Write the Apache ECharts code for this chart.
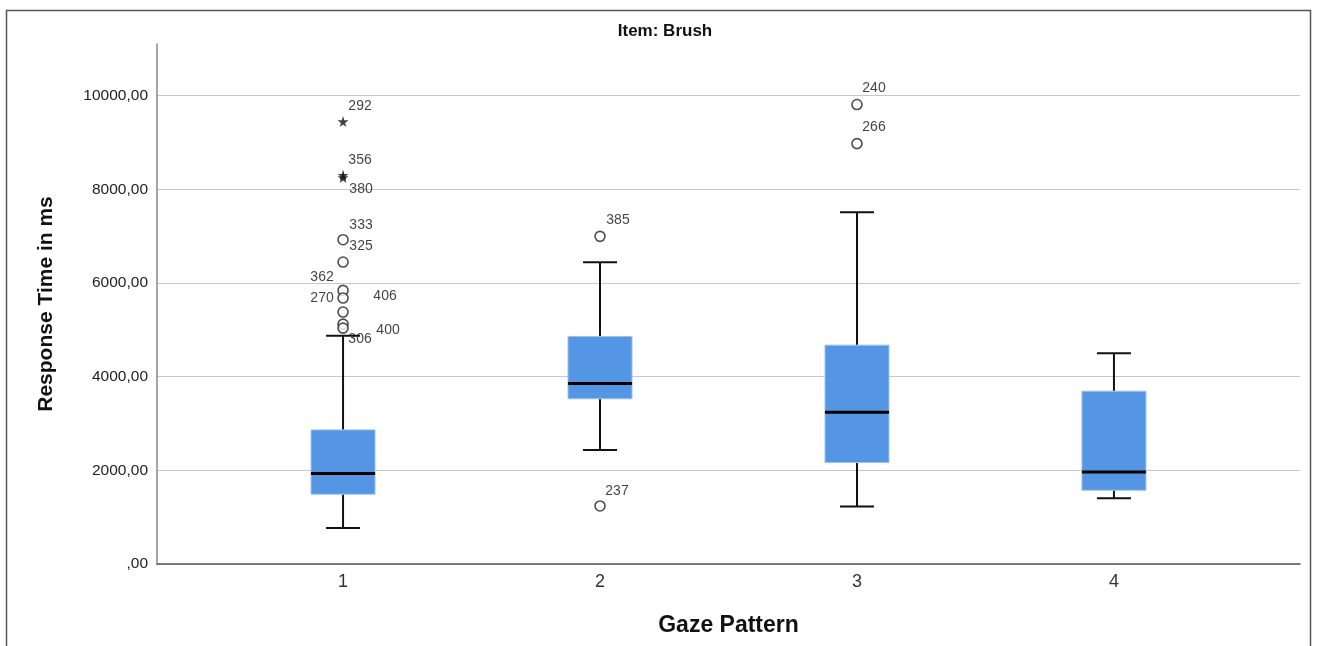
<!DOCTYPE html>
<html>
<head>
<meta charset="utf-8">
<script src="https://cdn.jsdelivr.net/npm/echarts@6/dist/echarts.min.js"></script>
<style>
html,body{margin:0;padding:0;background:#fff;}
#chart{width:1317px;height:646px;}
</style>
</head>
<body>
<div id="chart"></div>
<script>
// ---- data ----
const categories = ['1', '2', '3', '4'];
// box statistics per gaze pattern
const whiskerLow  = [769, 2436, 1225, 1403];
const quartile1   = [1489, 3526, 2165, 1574];
const medians     = [1930, 3853, 3241, 1966];
const quartile3   = [2863, 4857, 4672, 3689];
const whiskerHigh = [4872, 6439, 7507, 4501];
// outliers
const outlierCategory = ['1','1','1','1','1','1','1','1','1','1','2','2','3','3'];
const outlierValue    = [9444, 8300, 8250, 6923, 6446, 5840, 5677, 5378, 5121, 5036, 6994, 1239, 9808, 8974];
const outlierCase     = ['292','356','380','333','325','362','270','406','400','306','385','237','240','266'];
const outlierExtreme  = [true, true, true, false, false, false, false, false, false, false, false, false, false, false];
const yTicks = [0, 2000, 4000, 6000, 8000, 10000];

// ---- styling (label placement as in the original) ----
const labelOffsets = {
  '292': [17, -15], '356': [17, -15], '380': [18, 12], '333': [18, -15], '325': [18, -16],
  '362': [-21, -13], '270': [-21, 0], '406': [42, -16], '400': [45, 6], '306': [17, 11],
  '385': [18, -16], '237': [17, -15], '240': [17, -16], '266': [17, -16]
};
const STAR = 'path://M50,0 L61,35 L98,35 L68,57 L79,91 L50,70 L21,91 L32,57 L2,35 L39,35 Z';
const FONT = 'Liberation Sans, Arial, sans-serif';

const boxData = categories.map((c, i) => [i + 1, whiskerLow[i], quartile1[i], medians[i], quartile3[i], whiskerHigh[i]]);

const circleData = [], starData = [];
outlierValue.forEach((v, i) => {
  const x = categories.indexOf(outlierCategory[i]) + 1;
  const off = labelOffsets[outlierCase[i]] || [17, -15];
  const item = { value: [x, v], name: outlierCase[i], label: { offset: off } };
  (outlierExtreme[i] ? starData : circleData).push(item);
});

const chart = echarts.init(document.getElementById('chart'), null, { renderer: 'canvas' });

const pointLabel = {
  show: true,
  position: 'inside',
  formatter: p => p.name,
  color: '#111',
  textBorderWidth: 0,
  fontSize: 14,
  fontFamily: FONT,
  align: 'center',
  verticalAlign: 'middle'
};

chart.setOption({
  animation: false,
  backgroundColor: '#fff',
  title: {
    text: 'Item: Brush',
    left: 660,
    textAlign: 'center',
    top: 18,
    textStyle: { fontSize: 17, fontWeight: 'bold', color: '#111', fontFamily: FONT }
  },
  graphic: [{
    type: 'rect',
    shape: { x: 6.5, y: 10.5, width: 1304, height: 700 },
    style: { fill: 'none', stroke: '#555', lineWidth: 1.5 },
    silent: true,
    z: -1
  }],
  grid: { left: 157, right: 17, top: 44, bottom: 82, containLabel: false },
  xAxis: {
    type: 'value',
    min: 0.276,
    max: 4.724,
    name: 'Gaze Pattern',
    nameLocation: 'middle',
    nameGap: 50,
    nameTextStyle: { fontSize: 23, fontWeight: 'bold', color: '#111', fontFamily: FONT },
    axisLine: { show: true, lineStyle: { color: '#555', width: 1.5 } },
    axisTick: { show: false },
    splitLine: { show: false },
    axisLabel: {
      customValues: [1, 2, 3, 4],
      formatter: v => categories[Math.round(v) - 1] || '',
      fontSize: 18,
      color: '#333',
      margin: 9,
      fontFamily: FONT
    }
  },
  yAxis: {
    type: 'value',
    min: 0,
    max: 11100,
    interval: 2000,
    name: 'Response Time in ms',
    nameLocation: 'middle',
    nameGap: 100,
    nameTextStyle: { fontSize: 21, fontWeight: 'bold', color: '#111', fontFamily: FONT },
    axisLine: { show: true, lineStyle: { color: '#8a8a8a', width: 1.5 } },
    axisTick: { show: false },
    splitLine: { show: true, showMaxLine: false, lineStyle: { color: '#c8c8c8', width: 1.2 } },
    axisLabel: {
      showMaxLabel: false,
      formatter: v => (yTicks.indexOf(v) >= 0 ? (v === 0 ? ',00' : v + ',00') : ''),
      fontSize: 15.5,
      color: '#222',
      margin: 9,
      fontFamily: FONT
    }
  },
  series: [
    {
      type: 'custom',
      data: boxData,
      encode: { x: 0, y: [1, 2, 3, 4, 5] },
      z: 2,
      renderItem: function (params, api) {
        const x = api.value(0);
        const lo = api.coord([x, api.value(1)]);
        const q1 = api.coord([x, api.value(2)]);
        const md = api.coord([x, api.value(3)]);
        const q3 = api.coord([x, api.value(4)]);
        const hi = api.coord([x, api.value(5)]);
        const cx = lo[0];
        const bw = 64, cw = 34;
        const ls = { stroke: '#111', lineWidth: 2 };
        return {
          type: 'group',
          children: [
            { type: 'line', shape: { x1: cx, y1: hi[1], x2: cx, y2: q3[1] }, style: ls },
            { type: 'line', shape: { x1: cx, y1: q1[1], x2: cx, y2: lo[1] }, style: ls },
            { type: 'line', shape: { x1: cx - cw / 2, y1: hi[1], x2: cx + cw / 2, y2: hi[1] }, style: ls },
            { type: 'line', shape: { x1: cx - cw / 2, y1: lo[1], x2: cx + cw / 2, y2: lo[1] }, style: ls },
            { type: 'rect', shape: { x: cx - bw / 2, y: q3[1], width: bw, height: q1[1] - q3[1] },
              style: { fill: '#5596e4', stroke: '#9cc2f0', lineWidth: 1 } },
            { type: 'line', shape: { x1: cx - bw / 2, y1: md[1], x2: cx + bw / 2, y2: md[1] },
              style: { stroke: '#000', lineWidth: 3 } }
          ]
        };
      }
    },
    {
      type: 'scatter',
      data: circleData,
      symbol: 'circle',
      symbolSize: 10,
      z: 3,
      itemStyle: { color: '#fff', borderColor: '#222', borderWidth: 1.6 },
      label: pointLabel
    },
    {
      type: 'scatter',
      data: starData,
      symbol: STAR,
      symbolSize: 11,
      z: 3,
      itemStyle: { color: '#111' },
      label: pointLabel
    }
  ]
});
</script>
</body>
</html>
